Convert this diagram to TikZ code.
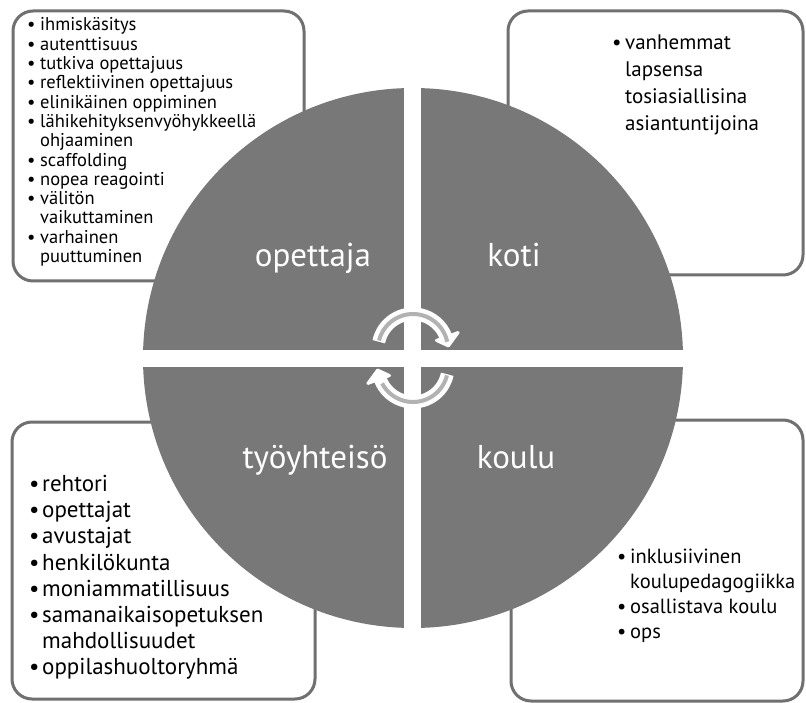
\documentclass[tikz,border=0pt]{standalone}
\usepackage{fontspec}
\setmainfont{PT Sans}
\usetikzlibrary{calc}
\newcommand{\bul}{\makebox[13pt][l]{\textbullet}}
\newcommand{\ind}{\hspace*{13pt}}
\begin{document}
\begin{tikzpicture}[x=1pt,y=1pt]
\definecolor{disc}{RGB}{120,120,120}
\definecolor{frame}{RGB}{112,112,112}
\definecolor{arrowline}{RGB}{178,178,178}
\tikzset{
  box/.style={draw=frame, line width=3pt, rounded corners=20pt},
  txt/.style={inner sep=0pt, anchor=base west, text=black},
  quad/.style={inner sep=0pt, anchor=base, text=white, font=\fontsize{33}{40}\selectfont},
}
\useasboundingbox (0,0) rectangle (806,-703);
\fill[white] (0,0) rectangle (806,-703);
% boxes
\draw[box] (13,-11) rectangle (304,-281);
\draw[box] (508,-11) rectangle (803,-275);
\draw[box] (12,-422) rectangle (315,-699);
\draw[box] (511,-420) rectangle (803,-701);
% disc
\coordinate (C) at (413,-358);
\fill[disc] (C) circle[radius=270];
\begin{scope}
  \clip (C) circle[radius=271];
  \fill[white] (404,-70) rectangle (421,-650);
  \fill[white] (130,-350) rectangle (700,-367);
\end{scope}
% quadrant labels
\node[quad] (opettaja) at (313,-267) {opettaja};
\node[quad] (koti) at (514,-267) {koti};
\node[quad] (tyo) at (315,-468) {työyhteisö};
\node[quad] (koulu) at (516,-468) {koulu};
% cycle arrows
\coordinate (U) at (413,-349);
\coordinate (L) at (413,-367);
\foreach \cc/\a/\b/\h in {U/168/20/5, L/-12/-160/-175}{
  \draw[white, line width=13pt] ([shift={(\a:35)}]\cc) arc[start angle=\a, end angle=\b, radius=35];
  \filldraw[white, line width=3pt, line join=round] ([shift={(\b:25)}]\cc) -- ([shift={(\b:48)}]\cc) -- ([shift={(\h:35.5)}]\cc) -- cycle;
  \draw[arrowline, line width=4pt] ([shift={(\a-2:35)}]\cc) arc[start angle=\a-2, end angle=\b-sign(\a)*8, radius=35];
}
% top-left list
\begin{scope}[every node/.style={txt, font=\fontsize{18.5}{20}\selectfont}]
\foreach \t [count=\i] in {\bul ihmiskäsitys, \bul autenttisuus, \bul tutkiva opettajuus,
  \bul reflektiivinen opettajuus, \bul elinikäinen oppiminen, \bul lähikehityksenvyöhykkeellä,
  \ind ohjaaminen, \bul scaffolding, \bul nopea reagointi, \bul välitön, \ind vaikuttaminen,
  \bul varhainen, \ind puuttuminen}
  \node (tl\i) at (27,{-31-19.3*(\i-1)}) {\t};
\end{scope}
% top-right list
\begin{scope}[every node/.style={txt, font=\fontsize{21}{24}\selectfont}]
\foreach \t [count=\i] in {\bul vanhemmat, \ind lapsensa, \ind tosiasiallisina, \ind asiantuntijoina}
  \node (tr\i) at (612,{-50-26.7*(\i-1)}) {\t};
\end{scope}
% bottom-left list
\begin{scope}[every node/.style={txt, font=\fontsize{23}{26}\selectfont}]
\foreach \t [count=\i] in {\bul rehtori, \bul opettajat, \bul avustajat, \bul henkilökunta,
  \bul moniammatillisuus, \bul samanaikaisopetuksen, \ind mahdollisuudet, \bul oppilashuoltoryhmä}
  \node (bl\i) at (29,{-491.5-26.2*(\i-1)}) {\t};
\end{scope}
% bottom-right list
\begin{scope}[every node/.style={txt, font=\fontsize{20.5}{24}\selectfont}]
\foreach \t [count=\i] in {\bul inklusiivinen, \ind koulupedagogiikka, \bul osallistava koulu, \bul ops}
  \node (br\i) at (617,{-563-25*(\i-1)}) {\t};
\end{scope}
\end{tikzpicture}
\end{document}
